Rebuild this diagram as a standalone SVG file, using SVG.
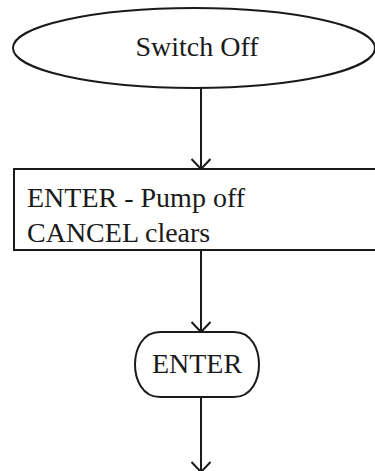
<svg xmlns="http://www.w3.org/2000/svg" width="375" height="471" viewBox="0 0 375 471">
<defs>
<style>
.shape{fill:#fff;stroke:#1a1a1a;stroke-width:2}
.conn{fill:none;stroke:#1a1a1a;stroke-width:2}
.t{font-family:"Liberation Serif","Times New Roman",serif;font-size:28px;fill:#1a1a1a}
</style>
<marker id="arr" viewBox="0 0 12 20" refX="11" refY="10" markerWidth="12" markerHeight="20" markerUnits="userSpaceOnUse" orient="auto">
<path d="M1,0.5 L11,10 L1,19.5" fill="none" stroke="#1a1a1a" stroke-width="2"/>
</marker>
</defs>
<rect width="375" height="471" fill="#fff"/>
<g id="connectors">
<line class="conn" x1="201" y1="88" x2="201" y2="169" marker-end="url(#arr)"/>
<line class="conn" x1="201" y1="250" x2="201" y2="332" marker-end="url(#arr)"/>
<line class="conn" x1="201" y1="397" x2="201" y2="472" marker-end="url(#arr)"/>
</g>
<g id="switch-off">
<ellipse class="shape" cx="194" cy="48" rx="181" ry="40"/>
<text class="t" x="197" y="56" text-anchor="middle">Switch Off</text>
</g>
<g id="pump-off">
<rect class="shape" x="14" y="169" width="380" height="81"/>
<text class="t" x="27" y="207">ENTER - Pump off</text>
<text class="t" x="27" y="242">CANCEL clears</text>
</g>
<g id="enter">
<path class="shape" d="M160,332 H234 C252,332 259,350 259,364.5 C259,379 252,397 234,397 H160 C142,397 135,379 135,364.5 C135,350 142,332 160,332 Z"/>
<text class="t" x="197" y="373" text-anchor="middle">ENTER</text>
</g>
</svg>
